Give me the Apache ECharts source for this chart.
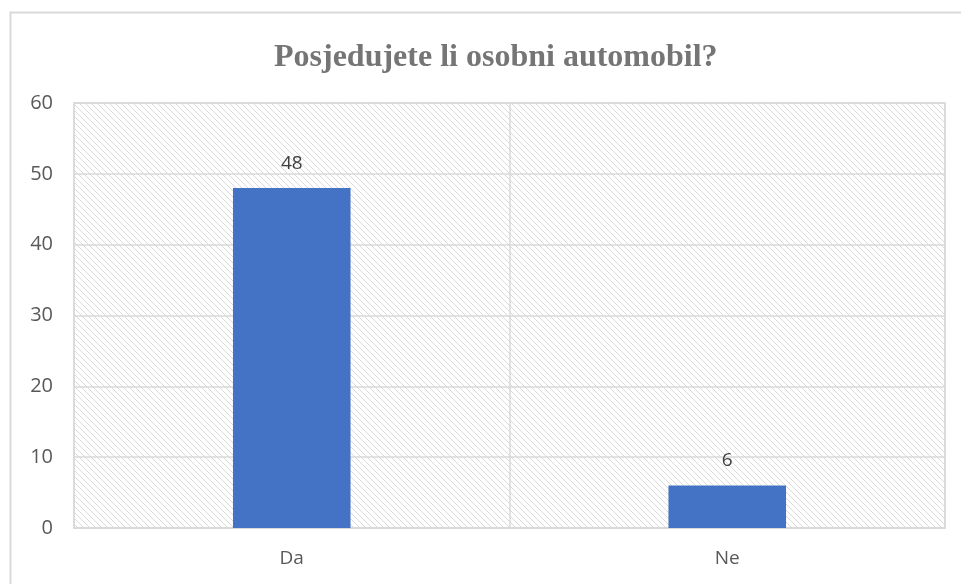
<!DOCTYPE html>
<html>
<head>
<meta charset="utf-8">
<script src="https://cdn.jsdelivr.net/npm/echarts@6/dist/echarts.min.js"></script>
<style>
html,body{margin:0;padding:0;background:#fff;}
#c{width:961px;height:584px;}
</style>
</head>
<body>
<div id="c"></div>
<script>
const titleText = 'Posjedujete li osobni automobil?';
const categories = ['Da', 'Ne'];
const values = [48, 6];
const yTicks = [0, 10, 20, 30, 40, 50, 60];

// hatch pattern
const tile = document.createElement('canvas');
tile.width = 6; tile.height = 6;
const ctx = tile.getContext('2d');
ctx.fillStyle = '#ffffff';
ctx.fillRect(0, 0, 6, 6);
ctx.strokeStyle = '#dadada';
ctx.lineWidth = 1;
ctx.beginPath();
ctx.moveTo(-1, -1); ctx.lineTo(7, 7);
ctx.moveTo(-7, -1); ctx.lineTo(1, 7);
ctx.moveTo(5, -1); ctx.lineTo(13, 7);
ctx.stroke();

const chart = echarts.init(document.getElementById('c'), null, {renderer: 'canvas'});
chart.setOption({
  animation: false,
  backgroundColor: '#ffffff',
  graphic: [{
    type: 'rect',
    shape: {x: 10.5, y: 12.5, width: 1000, height: 700},
    style: {fill: 'none', stroke: '#d9d9d9', lineWidth: 2},
    silent: true,
    z: -1
  }],
  title: {
    text: titleText,
    left: 269,
    top: 37,
    textStyle: {
      fontFamily: 'Liberation Serif',
      fontWeight: 'bold',
      fontSize: 32,
      color: '#757575'
    }
  },
  grid: {
    left: 74, right: 16, top: 103, bottom: 56,
    show: true,
    backgroundColor: {image: tile, repeat: 'repeat'},
    borderColor: '#d9d9d9',
    borderWidth: 1.5
  },
  xAxis: {
    type: 'category',
    data: categories,
    axisLine: {show: true, lineStyle: {color: '#d9d9d9', width: 1.5}},
    axisTick: {show: false},
    splitLine: {show: true, lineStyle: {color: '#d9d9d9', width: 1.5}},
    axisLabel: {
      color: '#595959', fontSize: 19, fontFamily: 'Open Sans', margin: 21
    }
  },
  yAxis: {
    type: 'value',
    min: 0, max: 60, interval: 10,
    axisLine: {show: false},
    axisTick: {show: false},
    splitLine: {show: true, lineStyle: {color: '#d9d9d9', width: 1.5}},
    axisLabel: {
      color: '#595959', fontSize: 20, fontFamily: 'Open Sans', margin: 21,
      formatter: function (v) { return yTicks.indexOf(v) >= 0 ? String(v) : ''; }
    }
  },
  series: [{
    type: 'bar',
    data: values,
    barWidth: '27%',
    itemStyle: {color: '#4472C4'},
    label: {
      show: true, position: 'top', distance: 15,
      color: '#404040', fontSize: 19, fontFamily: 'Open Sans'
    }
  }]
});
</script>
</body>
</html>
